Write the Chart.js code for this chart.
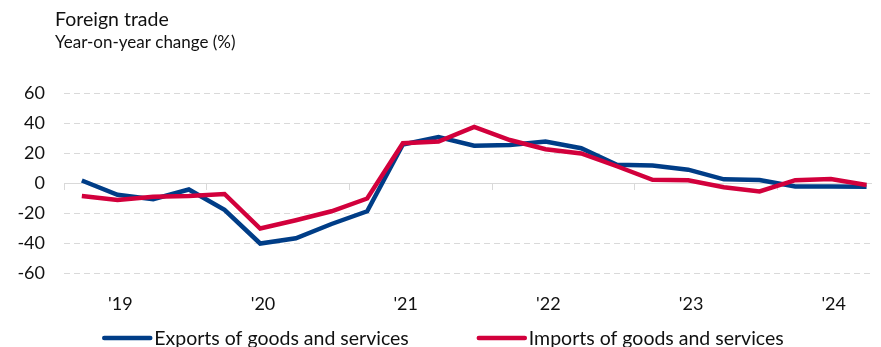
<!DOCTYPE html>
<html>
<head>
<meta charset="utf-8">
<script src="https://cdn.jsdelivr.net/npm/chart.js@4.4.1/dist/chart.umd.min.js"></script>
<style>
  html, body { margin: 0; padding: 0; background: #fff; }
  #wrap { width: 881px; height: 347px; position: relative; }
</style>
</head>
<body>
<div id="wrap"><canvas id="c"></canvas></div>
<script>
// ---- data (quarterly, 2019 Q1 – 2024 Q3) ----
const quarters = ["2019 Q1","2019 Q2","2019 Q3","2019 Q4","2020 Q1","2020 Q2","2020 Q3","2020 Q4",
                  "2021 Q1","2021 Q2","2021 Q3","2021 Q4","2022 Q1","2022 Q2","2022 Q3","2022 Q4",
                  "2023 Q1","2023 Q2","2023 Q3","2023 Q4","2024 Q1","2024 Q2","2024 Q3"];
const exportsYoY = [2, -7.5, -10.5, -4, -17.5, -40, -36.5, -27, -18.5, 26, 31, 25.2, 25.7, 28, 23.5, 12.5, 12, 9.2, 2.8, 2.3, -2, -2, -2.2];
const importsYoY = [-8.3, -11, -8.8, -8.3, -7, -30, -24.5, -18.5, -10, 26.8, 28, 37.8, 29, 22.8, 20, 11.5, 2.5, 2.2, -2.5, -5.3, 2.2, 3, -1];
const yearLabels = ["'19", "'20", "'21", "'22", "'23", "'24"];
const yTicks = [60, 40, 20, 0, -20, -40, -60];
const seriesNames = ["Exports of goods and services", "Imports of goods and services"];
const titleText = "Foreign trade";
const subtitleText = "Year-on-year change (%)";

const FONT = "Lato, 'Open Sans', sans-serif";
const BLUE = "#003d87";
const RED = "#d2003c";
const GRID = "#d9d9d9";
const TEXT = "#111111";

const toPoints = arr => arr.map((v, i) => ({ x: i, y: v }));

const titlePlugin = {
  id: 'customTitle',
  afterDraw(chart) {
    const ctx = chart.ctx;
    ctx.save();
    ctx.fillStyle = TEXT;
    ctx.textAlign = 'left';
    ctx.textBaseline = 'alphabetic';
    ctx.font = "19.5px " + FONT;
    ctx.fillText(titleText, 55, 26);
    ctx.font = "17px " + FONT;
    ctx.fillText(subtitleText, 55, 48);
    ctx.restore();
  }
};

const legendPlugin = {
  id: 'customLegend',
  afterDraw(chart) {
    const ctx = chart.ctx;
    ctx.save();
    ctx.font = "19.5px " + FONT;
    const lineW = 50, gapText = 2, gapItems = 68;
    const items = chart.data.datasets.map(ds => ({
      label: ds.label, color: ds.borderColor, w: lineW + gapText + ctx.measureText(ds.label).width
    }));
    const total = items.reduce((s, it) => s + it.w, 0) + gapItems * (items.length - 1);
    let x = 443 - total / 2;
    const yc = 338;
    items.forEach(it => {
      ctx.strokeStyle = it.color;
      ctx.lineWidth = 4.5;
      ctx.lineCap = 'round';
      ctx.beginPath();
      ctx.moveTo(x + 2, yc);
      ctx.lineTo(x + lineW - 2, yc);
      ctx.stroke();
      ctx.fillStyle = TEXT;
      ctx.textAlign = 'left';
      ctx.textBaseline = 'middle';
      ctx.fillText(it.label, x + lineW + gapText, yc + 1);
      x += it.w + gapItems;
    });
    ctx.restore();
  }
};

new Chart(document.getElementById('c'), {
  type: 'line',
  data: {
    labels: quarters,
    datasets: [
      { label: seriesNames[0], data: toPoints(exportsYoY), borderColor: BLUE, backgroundColor: BLUE,
        borderWidth: 4.5, pointRadius: 0, tension: 0, order: 1 },
      { label: seriesNames[1], data: toPoints(importsYoY), borderColor: RED, backgroundColor: RED,
        borderWidth: 4.5, pointRadius: 0, tension: 0, order: 0 }
    ]
  },
  options: {
    responsive: true,
    maintainAspectRatio: false,
    animation: false,
    devicePixelRatio: 1,
    layout: { padding: { top: 93.5, bottom: 33.5, left: 0, right: 0 } },
    plugins: { legend: { display: false }, tooltip: { enabled: false }, title: { display: false } },
    scales: {
      x: {
        type: 'linear',
        position: 'bottom',
        min: -0.5,
        max: 22.13,
        afterBuildTicks: axis => { axis.ticks = yearLabels.map((_, k) => ({ value: 1.5 + 4 * k })); },
        afterFit: axis => { axis.height = 40; },
        ticks: {
          callback: (v, i) => yearLabels[i],
          labelOffset: -15,
          padding: 20,
          maxRotation: 0,
          autoSkip: false,
          color: TEXT,
          font: { family: FONT, size: 18 }
        },
        grid: { display: false, drawTicks: false },
        border: { display: false }
      },
      x2: {
        type: 'linear',
        axis: 'x',
        position: { y: 0 },
        min: -0.5,
        max: 22.13,
        afterBuildTicks: axis => { axis.ticks = yearLabels.map((_, k) => ({ value: -0.5 + 4 * k })); },
        ticks: { display: false },
        grid: { drawOnChartArea: false, drawTicks: true, tickLength: 6, color: GRID, lineWidth: 1 },
        border: { display: true, color: GRID, width: 1 }
      },
      y: {
        min: -60,
        max: 60,
        afterBuildTicks: axis => { axis.ticks = yTicks.map(v => ({ value: v })); },
        afterFit: axis => { axis.width = 64; },
        ticks: { padding: 19, color: TEXT, font: { family: FONT, size: 18 } },
        grid: {
          drawTicks: false,
          color: c => (c.tick && c.tick.value === 0) ? 'rgba(0,0,0,0)' : GRID,
          lineWidth: 1
        },
        border: { display: false, dash: [6, 4] }
      }
    }
  },
  plugins: [titlePlugin, legendPlugin]
});
</script>
</body>
</html>
